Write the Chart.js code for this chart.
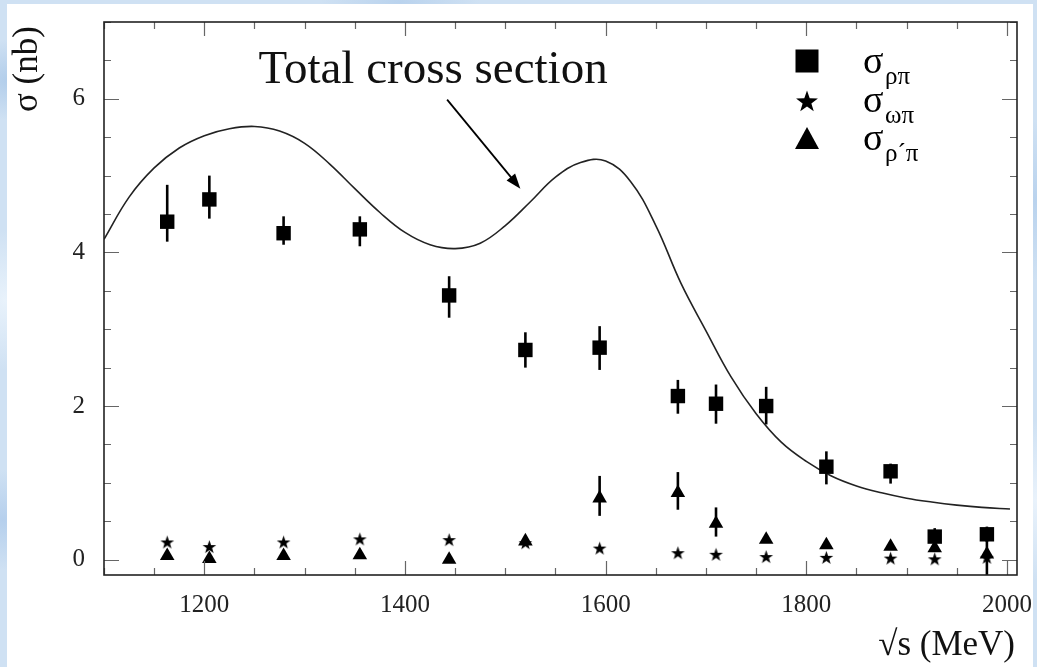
<!DOCTYPE html>
<html>
<head>
<meta charset="utf-8">
<script src="https://cdn.jsdelivr.net/npm/chart.js@4.4.1/dist/chart.umd.min.js"></script>
<style>
  html, body { margin: 0; padding: 0; width: 1037px; height: 667px; overflow: hidden; }
  body {
    background-color: #cfe1f3;
    background-image:
      radial-gradient(ellipse 60px 40px at 10px 80px, rgba(170,200,232,0.8), transparent),
      radial-gradient(ellipse 50px 70px at 5px 300px, rgba(235,244,252,0.9), transparent),
      radial-gradient(ellipse 60px 50px at 3px 520px, rgba(175,203,235,0.8), transparent),
      radial-gradient(ellipse 80px 30px at 400px 2px, rgba(180,207,236,0.8), transparent),
      radial-gradient(ellipse 60px 80px at 1036px 200px, rgba(180,207,236,0.8), transparent),
      radial-gradient(ellipse 60px 80px at 1036px 500px, rgba(236,244,252,0.9), transparent);
  }
  #panel { position: absolute; left: 7px; top: 4px; width: 1026px; height: 663px; background: #ffffff; }
</style>
</head>
<body>
<div id="panel"><canvas id="c"></canvas></div>
<script>
// Centre-of-mass energies of the measured points (MeV)
const energies = [1163, 1205, 1279, 1355, 1444, 1520, 1594, 1672, 1710, 1760, 1820, 1884, 1928, 1980];

// sigma(rho pi) with asymmetric errors (nb)
const rhoPi      = [4.40, 4.69, 4.25, 4.30, 3.44, 2.73, 2.76, 2.13, 2.03, 2.00, 1.21, 1.15, 0.30, 0.33];
const rhoPiUp    = [0.48, 0.31, 0.22, 0.17, 0.25, 0.23, 0.28, 0.21, 0.25, 0.25, 0.20, 0.10, 0.11, 0.10];
const rhoPiDown  = [0.26, 0.25, 0.15, 0.22, 0.29, 0.23, 0.29, 0.23, 0.26, 0.24, 0.23, 0.16, 0.10, 0.10];

// sigma(omega pi) (nb)
const omegaPi    = [0.23, 0.17, 0.23, 0.27, 0.26, 0.22, 0.15, 0.09, 0.07, 0.04, 0.03, 0.02, 0.01, 0.03];

// sigma(rho' pi) with asymmetric errors (nb)
const rhoPrimePi     = [0.05, 0.01, 0.05, 0.06, 0.00, 0.24, 0.80, 0.87, 0.47, 0.26, 0.19, 0.17, 0.15, 0.07];
const rhoPrimePiUp   = [0, 0, 0, 0, 0, 0, 0.29, 0.27, 0.21, 0, 0.04, 0.03, 0.05, 0.20];
const rhoPrimePiDown = [0, 0, 0, 0, 0, 0, 0.23, 0.22, 0.17, 0, 0.04, 0.03, 0.05, 0.40];

// Total cross section curve (MeV, nb)
const curveE     = [1100, 1125, 1150, 1175, 1200, 1225, 1250, 1275, 1300, 1325, 1350, 1375, 1400, 1425, 1450, 1475, 1500, 1525, 1550, 1575, 1600, 1625, 1650, 1675, 1700, 1725, 1750, 1775, 1800, 1825, 1850, 1875, 1900, 1925, 1950, 1975, 2003];
const curveSigma = [4.17, 4.72, 5.10, 5.36, 5.52, 5.61, 5.64, 5.58, 5.42, 5.15, 4.83, 4.52, 4.26, 4.10, 4.05, 4.12, 4.35, 4.66, 4.98, 5.17, 5.19, 4.92, 4.35, 3.60, 2.98, 2.38, 1.90, 1.53, 1.28, 1.09, 0.96, 0.87, 0.80, 0.75, 0.71, 0.68, 0.66];

// Axis ticks
const xTickValues = [1200, 1400, 1600, 1800, 2000];
const yTickValues = [0, 2, 4, 6];

const SERIF = "'Liberation Serif', 'DejaVu Serif', serif";

// Filled five-pointed star used as a point style
function makeStar(R) {
  const size = Math.ceil(R * 2 + 2);
  const cv = document.createElement('canvas');
  cv.width = size; cv.height = size;
  const g = cv.getContext('2d');
  starPath(g, size / 2, size / 2 + R * 0.1, R);
  g.fillStyle = '#000';
  g.fill();
  return cv;
}
function starPath(g, cx, cy, R) {
  const r = R * 0.40;
  g.beginPath();
  for (let i = 0; i < 10; i++) {
    const rad = (i % 2 === 0) ? R : r;
    const a = -Math.PI / 2 + i * Math.PI / 5;
    const px = cx + rad * Math.cos(a), py = cy + rad * Math.sin(a);
    if (i === 0) g.moveTo(px, py); else g.lineTo(px, py);
  }
  g.closePath();
}
const starImg = makeStar(7.2);

const pts = (ys) => energies.map((e, i) => ({ x: e, y: ys[i] }));

// Error bars, frame with inward ticks, annotation and legend
const decorations = {
  id: 'decorations',
  beforeDatasetsDraw(chart) {
    const { ctx, chartArea: ca, scales: { x, y } } = chart;
    ctx.save();
    ctx.beginPath();
    ctx.rect(ca.left, ca.top, ca.right - ca.left, ca.bottom - ca.top);
    ctx.clip();
    ctx.strokeStyle = '#000';
    ctx.lineWidth = 2.6;
    const bars = (vals, up, down) => {
      energies.forEach((e, i) => {
        if (!up[i] && !down[i]) return;
        const px = x.getPixelForValue(e);
        ctx.beginPath();
        ctx.moveTo(px, y.getPixelForValue(vals[i] + up[i]));
        ctx.lineTo(px, y.getPixelForValue(vals[i] - down[i]));
        ctx.stroke();
      });
    };
    bars(rhoPi, rhoPiUp, rhoPiDown);
    bars(rhoPrimePi, rhoPrimePiUp, rhoPrimePiDown);
    ctx.restore();
  },
  afterDraw(chart) {
    const { ctx, chartArea: ca, scales: { x, y } } = chart;
    ctx.save();

    // inward ticks
    ctx.strokeStyle = '#666';
    ctx.lineWidth = 1.2;
    ctx.beginPath();
    for (let v = 1100; v <= 2010; v += 50) {
      const px = Math.round(x.getPixelForValue(v)) + 0.5;
      const len = (v % 200 === 0) ? 14 : 7;
      ctx.moveTo(px, ca.bottom); ctx.lineTo(px, ca.bottom - len);
      ctx.moveTo(px, ca.top); ctx.lineTo(px, ca.top + len);
    }
    for (let v = 0; v <= 7.0001; v += 0.5) {
      const py = Math.round(y.getPixelForValue(v)) + 0.5;
      const len = (Math.abs(v % 2) < 1e-6) ? 15 : 7;
      ctx.moveTo(ca.left, py); ctx.lineTo(ca.left + len, py);
      ctx.moveTo(ca.right, py); ctx.lineTo(ca.right - len, py);
    }
    ctx.stroke();

    // frame
    ctx.strokeStyle = '#222';
    ctx.lineWidth = 1.6;
    ctx.strokeRect(ca.left, ca.top, ca.right - ca.left, ca.bottom - ca.top);

    // axis titles
    ctx.fillStyle = '#111';
    ctx.font = `35px ${SERIF}`;
    ctx.textBaseline = 'alphabetic';
    ctx.textAlign = 'right';
    ctx.fillText('\u221As (MeV)', ca.right - 2, ca.bottom + 80);
    ctx.save();
    ctx.translate(ca.left - 67, ca.top + 90);
    ctx.rotate(-Math.PI / 2);
    ctx.textAlign = 'left';
    ctx.fillText('\u03C3 (nb)', 0, 0);
    ctx.restore();

    // annotation
    ctx.textAlign = 'left';
    ctx.font = `47px ${SERIF}`;
    ctx.fillText('Total cross section', x.getPixelForValue(1254), y.getPixelForValue(6.21));
    const tx = x.getPixelForValue(1442), ty = y.getPixelForValue(5.99);
    const hx = x.getPixelForValue(1515), hy = y.getPixelForValue(4.83);
    const ang = Math.atan2(hy - ty, hx - tx);
    const hl = 15, hw = 5.5;
    ctx.strokeStyle = '#000';
    ctx.lineWidth = 1.8;
    ctx.beginPath();
    ctx.moveTo(tx, ty);
    ctx.lineTo(hx - hl * 0.8 * Math.cos(ang), hy - hl * 0.8 * Math.sin(ang));
    ctx.stroke();
    ctx.beginPath();
    ctx.moveTo(hx, hy);
    ctx.lineTo(hx - hl * Math.cos(ang) + hw * Math.sin(ang), hy - hl * Math.sin(ang) - hw * Math.cos(ang));
    ctx.lineTo(hx - hl * Math.cos(ang) - hw * Math.sin(ang), hy - hl * Math.sin(ang) + hw * Math.cos(ang));
    ctx.closePath();
    ctx.fillStyle = '#000';
    ctx.fill();

    // legend
    const mx = ca.left + 703;
    ctx.fillStyle = '#000';
    ctx.fillRect(mx - 11.5, ca.top + 39 - 11.5, 23, 23);
    starPath(ctx, mx, ca.top + 80, 11.5);
    ctx.fill();
    ctx.beginPath();
    ctx.moveTo(mx, ca.top + 105);
    ctx.lineTo(mx + 12, ca.top + 127);
    ctx.lineTo(mx - 12, ca.top + 127);
    ctx.closePath();
    ctx.fill();

    const entries = [
      { sub: '\u03C1\u03C0', base: 51 },
      { sub: '\u03C9\u03C0', base: 90 },
      { sub: '\u03C1\u00B4\u03C0', base: 128 }
    ];
    entries.forEach(en => {
      ctx.font = `38px ${SERIF}`;
      ctx.fillText('\u03C3', ca.left + 759, ca.top + en.base);
      ctx.font = `25px ${SERIF}`;
      ctx.fillText(en.sub, ca.left + 781, ca.top + en.base + 11);
    });
    ctx.restore();
  }
};

new Chart(document.getElementById('c'), {
  type: 'scatter',
  data: {
    datasets: [
      {
        label: 'Total cross section',
        type: 'line',
        data: curveE.map((e, i) => ({ x: e, y: curveSigma[i] })),
        borderColor: '#222',
        borderWidth: 1.6,
        pointRadius: 0,
        fill: false,
        tension: 0.4,
        order: 3
      },
      {
        label: '\u03C3\u03C1\u03C0',
        data: pts(rhoPi),
        pointStyle: 'rect',
        pointRadius: 10.2,
        backgroundColor: '#000',
        borderWidth: 0,
        order: 1
      },
      {
        label: '\u03C3\u03C9\u03C0',
        data: pts(omegaPi),
        pointStyle: starImg,
        pointRadius: 7,
        backgroundColor: '#000',
        borderWidth: 0,
        order: 2
      },
      {
        label: '\u03C3\u03C1\u00B4\u03C0',
        data: pts(rhoPrimePi),
        pointStyle: 'triangle',
        pointRadius: 8.4,
        backgroundColor: '#000',
        borderWidth: 0,
        order: 0
      }
    ]
  },
  options: {
    responsive: true,
    maintainAspectRatio: false,
    animation: false,
    events: [],
    layout: { padding: { top: 18, right: 16, left: 0, bottom: 0 } },
    plugins: { legend: { display: false }, tooltip: { enabled: false } },
    scales: {
      x: {
        type: 'linear',
        min: 1100,
        max: 2010,
        grid: { display: false, drawTicks: false },
        border: { display: false },
        afterBuildTicks: (s) => { s.ticks = xTickValues.map(v => ({ value: v })); },
        afterFit: (s) => { s.height = 92; s.paddingLeft = 0; s.paddingRight = 0; },
        ticks: { padding: 15, color: '#222', font: { family: SERIF, size: 25 }, maxRotation: 0, autoSkip: false,
                 callback: (v) => String(v) }
      },
      y: {
        type: 'linear',
        min: -0.2,
        max: 7.0,
        grid: { display: false, drawTicks: false },
        border: { display: false },
        afterBuildTicks: (s) => { s.ticks = yTickValues.map(v => ({ value: v })); },
        afterFit: (s) => { s.width = 97; s.paddingTop = 0; s.paddingBottom = 0; },
        ticks: { padding: 19, color: '#222', font: { family: SERIF, size: 25 }, callback: (v) => String(v) }
      }
    }
  },
  plugins: [decorations]
});
</script>
</body>
</html>
